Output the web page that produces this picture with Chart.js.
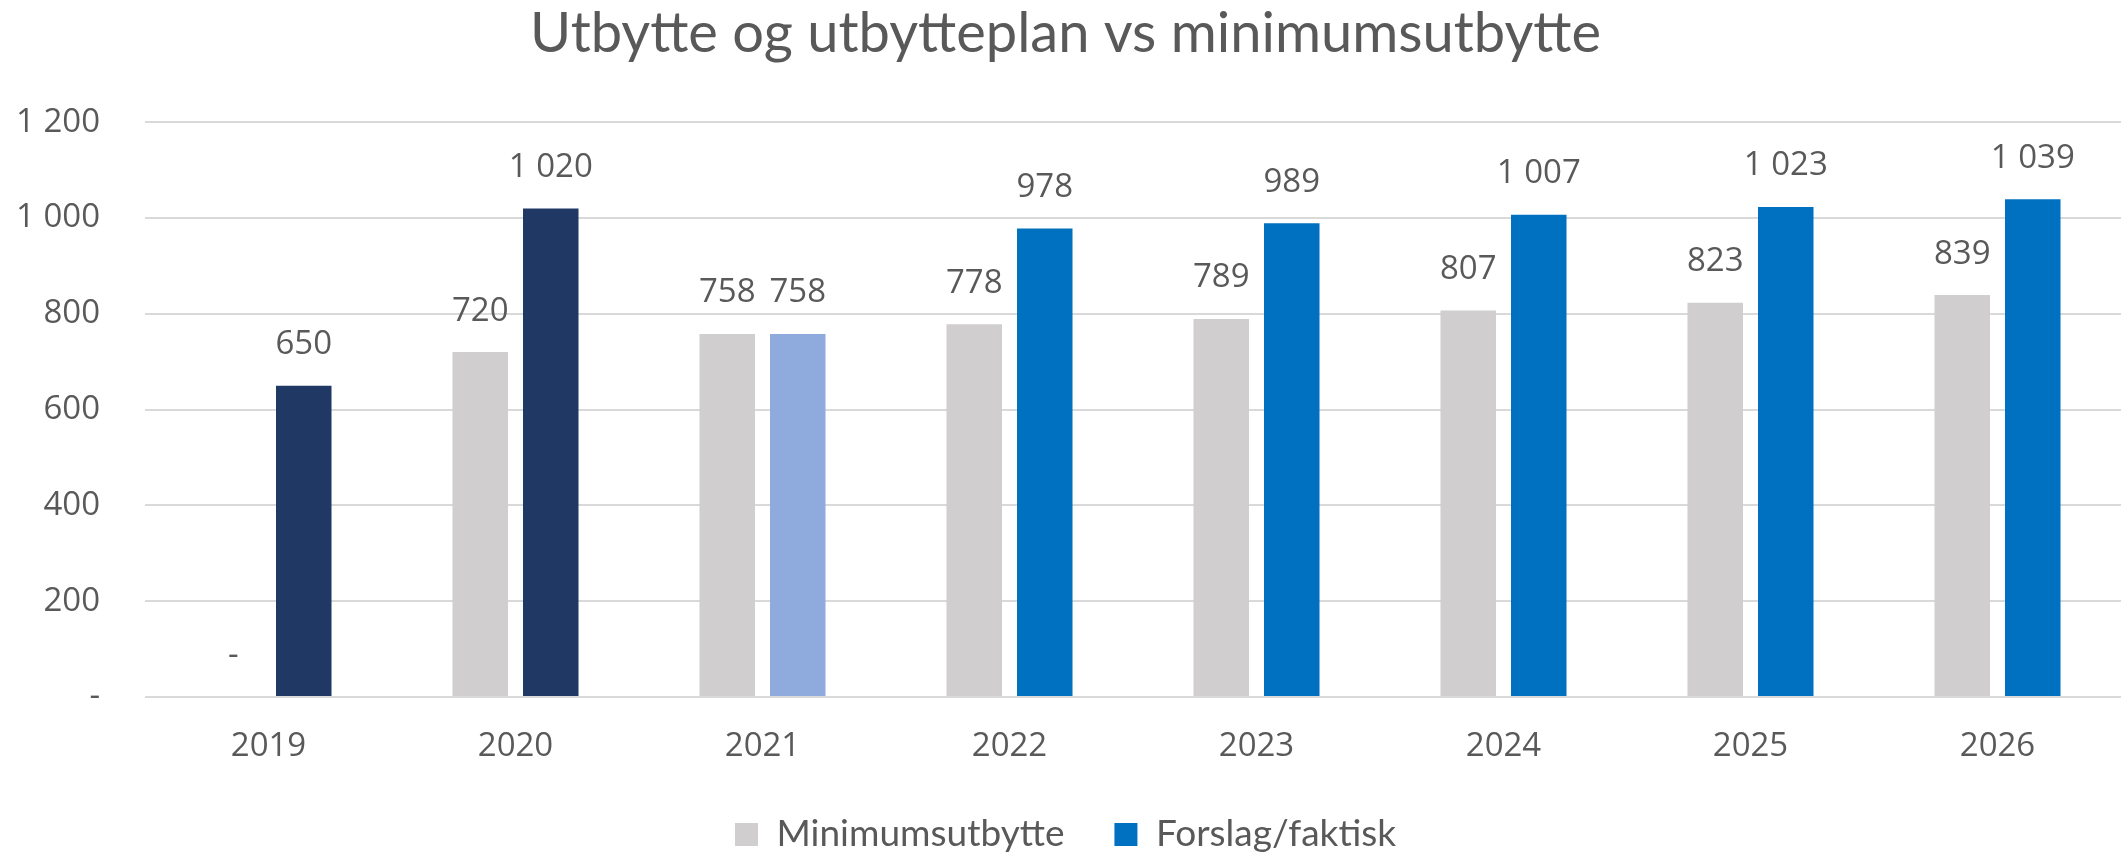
<!DOCTYPE html>
<html>
<head>
<meta charset="utf-8">
<script src="https://cdn.jsdelivr.net/npm/chart.js@4.4.0/dist/chart.umd.min.js"></script>
<style>
  html, body { margin: 0; padding: 0; background: #fff; }
  #wrap { width: 2125px; height: 853px; }
</style>
</head>
<body>
<div id="wrap"><canvas id="chart" width="2125" height="853"></canvas></div>
<script>
const years = ['2019', '2020', '2021', '2022', '2023', '2024', '2025', '2026'];
const minimum = [0, 720, 758, 778, 789, 807, 823, 839];
const proposal = [650, 1020, 758, 978, 989, 1007, 1023, 1039];
const proposalColors = ['#203864', '#203864', '#8FAADC', '#0070C0', '#0070C0', '#0070C0', '#0070C0', '#0070C0'];
const yTicks = [0, 200, 400, 600, 800, 1000, 1200];

const textColor = '#595959';

function fmt(v) {
    if (v === 0) return '-';
    return String(v).replace(/\B(?=(\d{3})+(?!\d))/g, ' ');
}

// draws the value above every bar
const valueLabels = {
    id: 'valueLabels',
    afterDatasetsDraw(chart) {
        const ctx = chart.ctx;
        ctx.save();
        ctx.font = '33px "Open Sans"';
        ctx.fillStyle = textColor;
        ctx.textAlign = 'center';
        ctx.textBaseline = 'middle';
        chart.data.datasets.forEach((ds, i) => {
            chart.getDatasetMeta(i).data.forEach((bar, j) => {
                ctx.fillText(fmt(ds.data[j]), bar.x, bar.y - 41);
            });
        });
        ctx.restore();
    }
};

const ctx = document.getElementById('chart').getContext('2d');
new Chart(ctx, {
    type: 'bar',
    data: {
        labels: years,
        datasets: [
            {
                label: 'Minimumsutbytte',
                data: minimum,
                backgroundColor: '#D0CECE',
                barPercentage: 0.787,
                categoryPercentage: 0.571
            },
            {
                label: 'Forslag/faktisk',
                data: proposal,
                backgroundColor: proposalColors,
                barPercentage: 0.787,
                categoryPercentage: 0.571
            }
        ]
    },
    options: {
        responsive: false,
        animation: false,
        layout: { padding: { left: 10, right: 4, top: 0, bottom: -10 } },
        plugins: {
            title: {
                display: true,
                text: 'Utbytte og utbytteplan vs minimumsutbytte',
                color: textColor,
                font: { family: 'Lato', size: 56, weight: 'normal' },
                padding: { top: 0, bottom: 55 }
            },
            legend: {
                position: 'bottom',
                labels: {
                    color: textColor,
                    font: { family: 'Lato', size: 37 },
                    boxWidth: 23,
                    boxHeight: 23,
                    padding: 50,
                    generateLabels(chart) {
                        return [
                            { text: 'Minimumsutbytte', fillStyle: '#D0CECE', strokeStyle: '#D0CECE', lineWidth: 0, datasetIndex: 0, fontColor: textColor },
                            { text: 'Forslag/faktisk', fillStyle: '#0070C0', strokeStyle: '#0070C0', lineWidth: 0, datasetIndex: 1, fontColor: textColor }
                        ];
                    }
                }
            },
            tooltip: { enabled: false }
        },
        scales: {
            x: {
                grid: { display: false, drawTicks: false },
                border: { display: false },
                ticks: {
                    color: textColor,
                    font: { family: 'Open Sans', size: 33 },
                    padding: 30
                },
                afterFit(scale) { scale.height = 69; }
            },
            y: {
                min: 0,
                max: 1200,
                afterBuildTicks(scale) { scale.ticks = yTicks.map(v => ({ value: v })); },
                grid: { color: '#D9D9D9', lineWidth: 2, drawTicks: false },
                border: { display: false },
                ticks: {
                    color: textColor,
                    font: { family: 'Open Sans', size: 33 },
                    padding: 45,
                    callback: v => fmt(v)
                },
                afterFit(scale) { scale.width = 135; }
            }
        }
    },
    plugins: [valueLabels]
});
</script>
</body>
</html>
